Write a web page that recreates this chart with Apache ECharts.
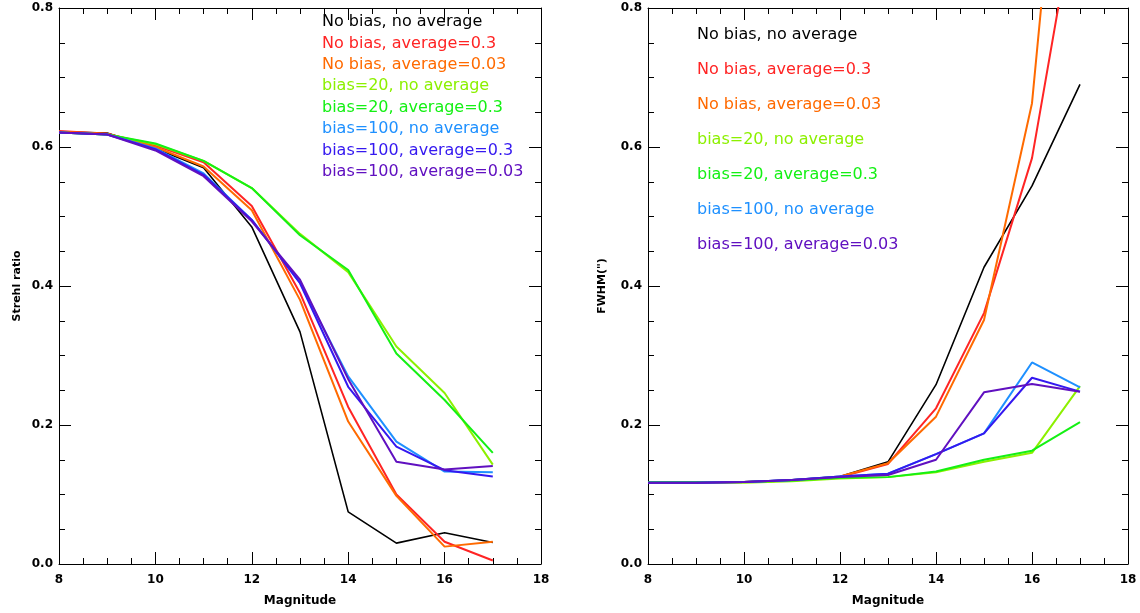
<!DOCTYPE html>
<html>
<head>
<meta charset="utf-8">
<script src="https://cdn.jsdelivr.net/npm/echarts@6/dist/echarts.min.js"></script>
<style>
html,body{margin:0;padding:0;background:#fff;}
#chart{width:1140px;height:613px;}
</style>
</head>
<body>
<div id="chart"></div>
<script>
// ---------------- data ----------------
var magnitudes = [8, 9, 10, 11, 12, 13, 14, 15, 16, 17];

var seriesNames = [
  'No bias, no average',
  'No bias, average=0.3',
  'No bias, average=0.03',
  'bias=20, no average',
  'bias=20, average=0.3',
  'bias=100, no average',
  'bias=100, average=0.3',
  'bias=100, average=0.03'
];

// Strehl ratio (left panel)
var strehlNoBiasNoAvg   = [0.622, 0.620, 0.598, 0.570, 0.485, 0.334, 0.075, 0.030, 0.045, 0.031];
var strehlNoBiasAvg03   = [0.623, 0.619, 0.602, 0.578, 0.515, 0.390, 0.226, 0.100, 0.032, 0.005];
var strehlNoBiasAvg003  = [0.622, 0.619, 0.600, 0.572, 0.509, 0.380, 0.205, 0.098, 0.025, 0.032];
var strehlBias20NoAvg   = [0.621, 0.618, 0.604, 0.580, 0.541, 0.475, 0.420, 0.313, 0.246, 0.143];
var strehlBias20Avg03   = [0.621, 0.618, 0.605, 0.580, 0.541, 0.473, 0.423, 0.303, 0.236, 0.160];
var strehlBias100NoAvg  = [0.621, 0.618, 0.598, 0.562, 0.495, 0.405, 0.270, 0.176, 0.133, 0.132];
var strehlBias100Avg03  = [0.621, 0.618, 0.597, 0.560, 0.495, 0.404, 0.255, 0.169, 0.135, 0.126];
var strehlBias100Avg003 = [0.621, 0.618, 0.595, 0.558, 0.493, 0.409, 0.266, 0.147, 0.136, 0.141];

// FWHM (right panel)
var fwhmNoBiasNoAvg   = [0.117, 0.117, 0.118, 0.121, 0.126, 0.147, 0.258, 0.427, 0.544, 0.690];
var fwhmNoBiasAvg03   = [0.117, 0.117, 0.118, 0.120, 0.125, 0.144, 0.224, 0.361, 0.584, 0.980];
var fwhmNoBiasAvg003  = [0.117, 0.117, 0.118, 0.120, 0.126, 0.145, 0.212, 0.351, 0.663, 1.390];
var fwhmBias20NoAvg   = [0.117, 0.117, 0.117, 0.119, 0.123, 0.125, 0.132, 0.147, 0.160, 0.256];
var fwhmBias20Avg03   = [0.118, 0.118, 0.118, 0.120, 0.124, 0.125, 0.133, 0.150, 0.163, 0.204];
var fwhmBias100NoAvg  = [0.117, 0.117, 0.118, 0.121, 0.126, 0.130, 0.158, 0.188, 0.290, 0.254];
var fwhmBias100Avg03  = [0.117, 0.117, 0.118, 0.121, 0.126, 0.130, 0.158, 0.188, 0.268, 0.248];
var fwhmBias100Avg003 = [0.117, 0.117, 0.118, 0.121, 0.125, 0.128, 0.150, 0.247, 0.259, 0.248];

var leftLegendLabels = seriesNames.slice();
var rightLegendLabels = [
  'No bias, no average',
  'No bias, average=0.3',
  'No bias, average=0.03',
  'bias=20, no average',
  'bias=20, average=0.3',
  'bias=100, no average',
  'bias=100, average=0.03'
];

var xTitle = 'Magnitude';
var leftYTitle = 'Strehl ratio';
var rightYTitle = 'FWHM(")';

// ---------------- styles ----------------
var colors = {
  'No bias, no average': '#000000',
  'No bias, average=0.3': '#ff2424',
  'No bias, average=0.03': '#ff6a00',
  'bias=20, no average': '#8cf000',
  'bias=20, average=0.3': '#14f014',
  'bias=100, no average': '#1e90ff',
  'bias=100, average=0.3': '#3418f0',
  'bias=100, average=0.03': '#6010c0'
};

var strehlSets = [strehlNoBiasNoAvg, strehlNoBiasAvg03, strehlNoBiasAvg003, strehlBias20NoAvg,
                  strehlBias20Avg03, strehlBias100NoAvg, strehlBias100Avg03, strehlBias100Avg003];
var fwhmSets = [fwhmNoBiasNoAvg, fwhmNoBiasAvg03, fwhmNoBiasAvg003, fwhmBias20NoAvg,
                fwhmBias20Avg03, fwhmBias100NoAvg, fwhmBias100Avg03, fwhmBias100Avg003];

function pairs(vals) {
  return magnitudes.map(function (m, i) { return [m, vals[i]]; });
}

var tickFont = {fontFamily: 'DejaVu Sans', fontWeight: 'bold', fontSize: 12, color: '#000'};

function xAx(gridIndex, pos, showLabel) {
  return {
    type: 'value', gridIndex: gridIndex, position: pos, min: 8, max: 18, interval: 2,
    axisLine: {show: true, onZero: false, lineStyle: {color: '#000', width: 1}},
    axisTick: {show: true, inside: true, length: 12, lineStyle: {color: '#000'}},
    minorTick: {show: true, splitNumber: 4, length: 6, lineStyle: {color: '#000'}},
    splitLine: {show: false},
    axisLabel: Object.assign({show: showLabel, margin: 10}, tickFont),
    name: showLabel ? xTitle : '',
    nameLocation: 'middle', nameGap: 31,
    nameTextStyle: {fontFamily: 'DejaVu Sans', fontWeight: 'bold', fontSize: 12, color: '#000'}
  };
}
function yAx(gridIndex, pos, showLabel, title) {
  return {
    type: 'value', gridIndex: gridIndex, position: pos, min: 0, max: 0.8, interval: 0.2,
    axisLine: {show: true, onZero: false, lineStyle: {color: '#000', width: 1}},
    axisTick: {show: true, inside: true, length: 12, lineStyle: {color: '#000'}},
    minorTick: {show: true, splitNumber: 4, length: 6, lineStyle: {color: '#000'}},
    splitLine: {show: false},
    axisLabel: Object.assign({show: showLabel, margin: 6, formatter: function (v) { return v.toFixed(1); }}, tickFont),
    name: showLabel ? title : '',
    nameLocation: 'middle', nameGap: showLabel ? (gridIndex === 0 ? 36 : 40) : 0,
    nameRotate: 90,
    nameTextStyle: {fontFamily: 'DejaVu Sans', fontWeight: 'bold', fontSize: 11, color: '#000'}
  };
}

var series = [];
seriesNames.forEach(function (name, k) {
  series.push({
    name: name, type: 'line', xAxisIndex: 0, yAxisIndex: 0,
    data: pairs(strehlSets[k]), symbol: 'none', clip: true,
    lineStyle: {color: colors[name], width: name === 'No bias, no average' ? 1.6 : 2},
    itemStyle: {color: colors[name]}, animation: false
  });
  series.push({
    name: name, type: 'line', xAxisIndex: 2, yAxisIndex: 2,
    data: pairs(fwhmSets[k]), symbol: 'none', clip: true,
    lineStyle: {color: colors[name], width: name === 'No bias, no average' ? 1.6 : 2},
    itemStyle: {color: colors[name]}, animation: false
  });
});

var graphics = [];
leftLegendLabels.forEach(function (t, i) {
  graphics.push({type: 'text', left: 322, top: 14 + i * 21.4,
    style: {text: t, fill: colors[t], font: '16px "DejaVu Sans"'}});
});
rightLegendLabels.forEach(function (t, i) {
  graphics.push({type: 'text', left: 697, top: 27 + i * 35,
    style: {text: t, fill: colors[t], font: '16px "DejaVu Sans"'}});
});

var option = {
  backgroundColor: '#ffffff',
  animation: false,
  grid: [
    {left: 59, top: 8, width: 482, height: 556},
    {left: 648, top: 8, width: 480, height: 556}
  ],
  xAxis: [xAx(0, 'bottom', true), xAx(0, 'top', false), xAx(1, 'bottom', true), xAx(1, 'top', false)],
  yAxis: [yAx(0, 'left', true, leftYTitle), yAx(0, 'right', false), yAx(1, 'left', true, rightYTitle), yAx(1, 'right', false)],
  series: series,
  graphic: graphics
};

var chart = echarts.init(document.getElementById('chart'), null, {renderer: 'canvas'});
chart.setOption(option);
</script>
</body>
</html>
